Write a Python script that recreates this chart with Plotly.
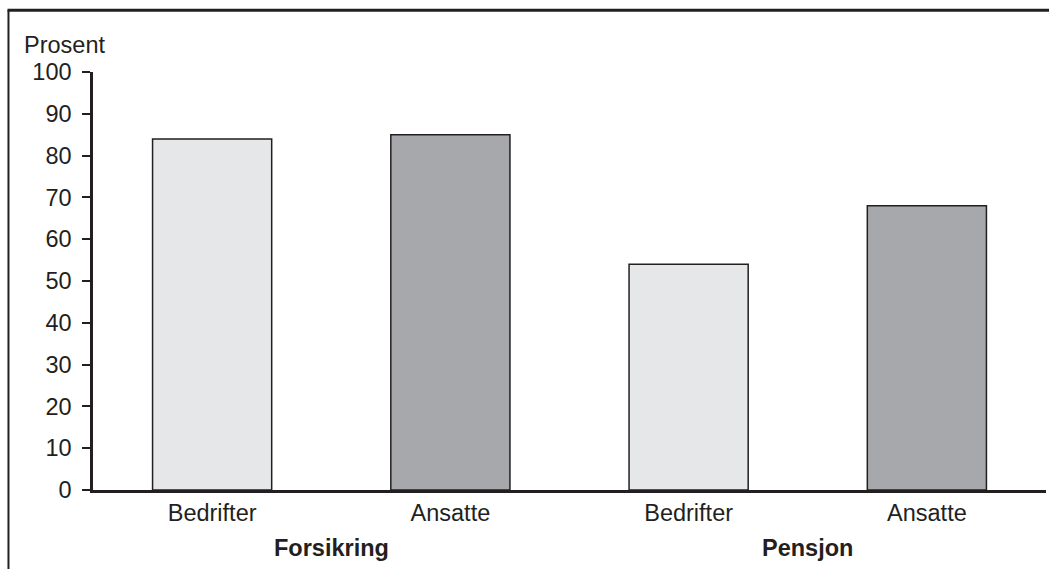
import plotly.graph_objects as go

# Share (%) of companies and employees with insurance / pension
groups = ["Forsikring", "Pensjon"]
categories = ["Bedrifter", "Ansatte", "Bedrifter", "Ansatte"]
values = [84, 85, 54, 68]
bar_colors = ["#e6e7e8", "#a7a8ab", "#e6e7e8", "#a7a8ab"]
y_ticks = [0, 10, 20, 30, 40, 50, 60, 70, 80, 90, 100]

positions = list(range(len(categories)))
font_family = "Liberation Sans, Arial, sans-serif"

fig = go.Figure(
    go.Bar(
        x=positions,
        y=values,
        marker=dict(color=bar_colors, line=dict(color="#231f20", width=1.5)),
        width=0.5,
        showlegend=False,
        hoverinfo="skip",
    )
)

# Group labels centred beneath each pair of bars
annotations = [
    dict(
        x=(2 * i + 0.5),
        y=-0.138,
        xref="x",
        yref="paper",
        text=f"<b>{g}</b>",
        showarrow=False,
        font=dict(family=font_family, size=23.5, color="#231f20"),
        xanchor="center",
        yanchor="middle",
    )
    for i, g in enumerate(groups)
]
annotations.append(
    dict(
        x=-0.074,
        y=1.064,
        xref="paper",
        yref="paper",
        text="Prosent",
        showarrow=False,
        font=dict(family=font_family, size=23.5, color="#231f20"),
        xanchor="left",
        yanchor="middle",
    )
)

fig.update_layout(
    width=1049,
    height=569,
    margin=dict(l=93, r=3, t=72, b=79),
    paper_bgcolor="white",
    plot_bgcolor="white",
    font=dict(family=font_family, size=22, color="#231f20"),
    annotations=annotations,
    shapes=[
        # outer frame (left and top edges)
        dict(type="line", xref="paper", yref="paper",
             x0=-0.0887, x1=-0.0887, y0=1.148, y1=-0.3,
             line=dict(color="#231f20", width=2)),
        dict(type="line", xref="paper", yref="paper",
             x0=-0.0897, x1=1.1, y0=1.148, y1=1.148,
             line=dict(color="#231f20", width=3)),
    ],
)

fig.update_xaxes(
    range=[-0.5, len(categories) - 0.5],
    tickmode="array",
    tickvals=positions,
    ticktext=categories,
    ticks="",
    showline=True,
    linecolor="#231f20",
    linewidth=2.5,
    showgrid=False,
    zeroline=False,
    tickfont=dict(size=23.5),
    ticklabelstandoff=0,
)
fig.update_yaxes(
    range=[0, 100],
    tickmode="array",
    tickvals=y_ticks,
    ticks="outside",
    ticklen=8,
    tickwidth=2,
    tickcolor="#231f20",
    showline=True,
    linecolor="#231f20",
    linewidth=2.5,
    showgrid=False,
    zeroline=False,
    tickfont=dict(size=23.5),
    ticklabelstandoff=6,
)

fig.write_html("out.html")
